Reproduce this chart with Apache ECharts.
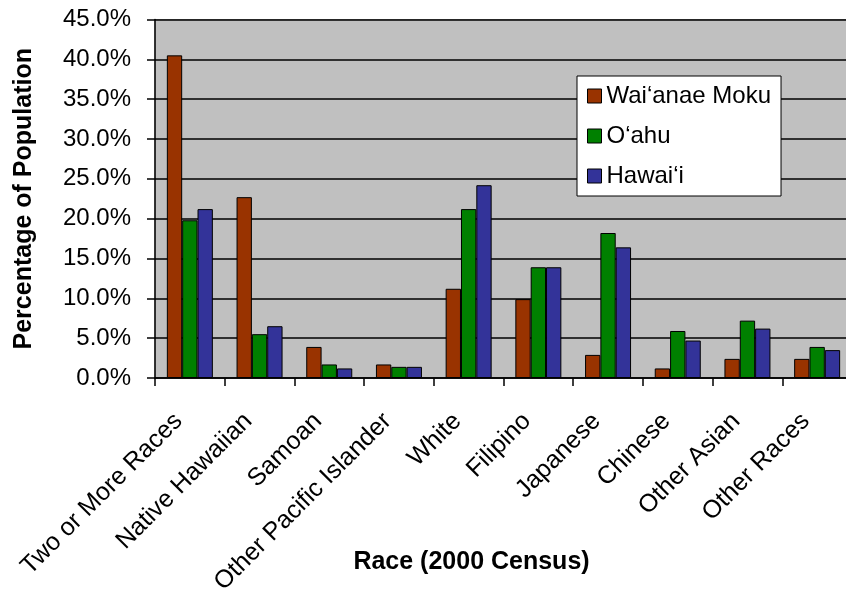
<!DOCTYPE html>
<html>
<head>
<meta charset="utf-8">
<script src="https://cdn.jsdelivr.net/npm/echarts@6/dist/echarts.min.js"></script>
<style>
  html, body { margin: 0; padding: 0; background: #fff; }
  #chart { width: 846px; height: 597px; }
</style>
</head>
<body>
<div id="chart"></div>
<script>
// Race breakdown, 2000 Census (percent of population)
const categories = ['Two or More Races', 'Native Hawaiian', 'Samoan', 'Other Pacific Islander',
  'White', 'Filipino', 'Japanese', 'Chinese', 'Other Asian', 'Other Races'];
const seriesNames = ['Wai\u2018anae Moku', 'O\u2018ahu', 'Hawai\u2018i'];
const waianae = [40.5, 22.7, 3.9, 1.7, 11.2, 9.9, 2.9, 1.2, 2.4, 2.4];
const oahu    = [19.8, 5.5, 1.7, 1.4, 21.2, 13.9, 18.2, 5.9, 7.2, 3.9];
const hawaii  = [21.2, 6.5, 1.2, 1.4, 24.2, 13.9, 16.4, 4.7, 6.2, 3.5];
const colors = ['#993300', '#008000', '#333399'];

const FONT = "'Liberation Sans', Arial, sans-serif";
const chart = echarts.init(document.getElementById('chart'), null, { renderer: 'canvas' });

const makeSeries = (name, data, color) => ({
  name, type: 'bar', data,
  barGap: '0%', barCategoryGap: '34%',
  itemStyle: { color, borderColor: '#000', borderWidth: 1 },
  emphasis: { disabled: true }
});

chart.setOption({
  animation: false,
  textStyle: { fontFamily: FONT, color: '#000' },
  grid: {
    left: 155, top: 19.5, width: 697, bottom: 219,
    outerBoundsMode: 'none', containLabel: false,
    show: true, backgroundColor: '#c0c0c0', borderColor: '#999', borderWidth: 1
  },
  legend: {
    orient: 'vertical', left: 577, top: 76,
    backgroundColor: '#fff', borderColor: '#000', borderWidth: 1,
    padding: [8, 10, 8, 10],
    itemWidth: 14, itemHeight: 14, itemGap: 16, icon: 'rect',
    itemStyle: { borderColor: '#000', borderWidth: 1 },
    textStyle: { fontFamily: FONT, fontSize: 24, color: '#000', width: 167 },
    data: seriesNames
  },
  xAxis: {
    type: 'category', data: categories,
    name: 'Race (2000 Census)', nameLocation: 'middle', nameGap: 172,
    nameMoveOverlap: false,
    nameTextStyle: { fontFamily: FONT, fontSize: 25, fontWeight: 'bold', color: '#000',
      padding: [0, 64, 0, 0] },
    axisLine: { lineStyle: { color: '#000', width: 1.5 } },
    axisTick: { show: true, length: 8, lineStyle: { color: '#000', width: 1.5 } },
    axisLabel: { interval: 0, rotate: 45, margin: 28, fontSize: 25, color: '#000',
      fontFamily: FONT, padding: [0, 16, 0, 0] }
  },
  yAxis: {
    type: 'value', min: 0, max: 45, interval: 5,
    name: 'Percentage of Population', nameLocation: 'middle', nameGap: 118,
    nameMoveOverlap: false,
    nameTextStyle: { fontFamily: FONT, fontSize: 25, fontWeight: 'bold', color: '#000' },
    axisLine: { show: true, lineStyle: { color: '#000', width: 1.5 } },
    axisTick: { show: true, length: 8, lineStyle: { color: '#000', width: 1.5 } },
    axisLabel: { margin: 24, fontSize: 24, color: '#000', fontFamily: FONT,
      formatter: v => v.toFixed(1) + '%' },
    splitLine: { lineStyle: { color: '#000', width: 1.5 } }
  },
  series: [
    makeSeries(seriesNames[0], waianae, colors[0]),
    makeSeries(seriesNames[1], oahu, colors[1]),
    makeSeries(seriesNames[2], hawaii, colors[2])
  ]
});
</script>
</body>
</html>
